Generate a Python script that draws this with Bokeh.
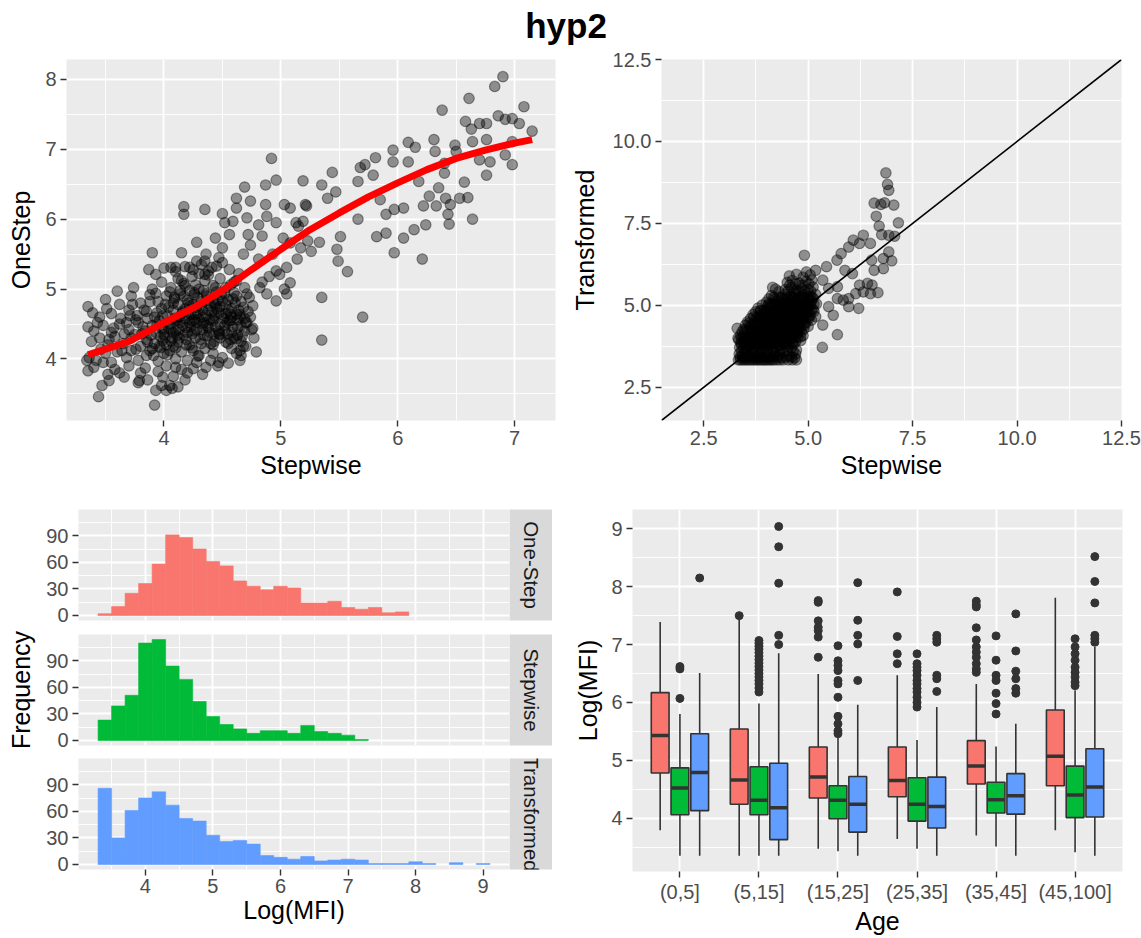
import math
from bokeh.plotting import figure
from bokeh.layouts import row, column
from bokeh.models import Range1d, FixedTicker, NumeralTickFormatter, ColumnDataSource
from bokeh.core.properties import value
from bokeh.transform import dodge
from bokeh.embed import file_html
from bokeh.resources import INLINE

FONT = "Liberation Sans"
PANEL_BG = "#EBEBEB"
title_text = "hyp2"

# ---------------- top-left: Stepwise vs OneStep ----------------
onestep_vs_stepwise = [
    (3.35,4.75),(3.35,4.46),(3.34,3.98),(3.35,3.83),(3.44,3.46),(3.47,3.62),(3.53,3.69),(3.60,4.97),
    (3.74,5.02),(3.90,5.52),(3.87,5.28),(3.93,5.21),(3.92,3.34),(3.93,3.55),(4.02,3.55),(4.07,3.58),
    (3.79,3.69),(4.17,6.18),(4.17,6.07),(4.35,6.14),(4.06,5.31),(4.15,5.52),(4.28,5.67),(4.47,3.95),
    (4.65,3.98),(4.69,6.46),(4.87,6.49),(4.92,6.87),(4.96,6.56),(4.87,6.21),(4.62,6.30),(4.74,6.26),
    (4.76,4.76),(4.76,4.44),(4.96,4.83),(5.05,4.93),(4.88,4.93),(5.19,6.55),(5.21,6.21),(5.35,6.49),
    (5.44,6.67),(5.47,6.39),(5.35,4.88),(5.35,4.27),(5.48,5.57),(5.49,5.40),(5.57,5.25),(5.51,5.75),
    (5.40,6.30),(5.33,5.67),(5.70,4.60),(5.66,6.54),(5.66,6.00),(5.68,6.74),(5.72,6.78),(5.79,6.63),
    (5.81,6.88),(5.82,5.75),(5.90,5.80),(5.85,6.28),(5.90,6.07),(5.96,6.99),(5.96,6.82),(5.97,5.52),
    (5.97,6.14),(6.05,5.73),(6.05,6.16),(6.09,7.10),(6.15,7.03),(6.09,6.82),(6.14,5.85),(6.21,5.43),
    (6.24,5.92),(6.22,6.19),(6.18,6.54),(6.27,6.33),(6.31,7.14),(6.32,6.97),(6.33,6.19),(6.35,6.45),
    (6.38,7.56),(6.40,6.80),(6.40,6.66),(6.41,6.30),(6.43,6.07),(6.44,5.93),(6.45,6.21),(6.49,7.06),
    (6.50,6.97),(6.53,6.30),(6.57,6.53),(6.58,7.40),(6.61,7.73),(6.63,7.29),(6.64,7.11),(6.64,6.00),
    (6.60,6.31),(6.70,7.37),(6.70,6.85),(6.76,7.14),(6.76,7.37),(6.76,6.63),(6.79,6.82),(6.83,7.90),
    (6.86,7.48),(6.90,8.04),(6.92,7.43),(6.92,6.92),(6.98,7.44),(6.98,6.78),(6.98,7.11),(7.04,7.37),
    (7.08,7.61),(7.15,7.26),
    (4.50,6.08),(4.52,5.95),(4.56,5.78),(4.59,5.97),(4.62,6.16),(4.71,6.02),(4.72,5.78),(4.74,5.63),
    (4.81,5.92),(4.84,5.76),(4.88,6.04),(4.96,5.95),(4.93,5.50),(4.96,5.26),(4.99,5.21),(5.03,6.21),
    (5.08,6.16),(5.13,5.95),(5.15,5.90),(5.19,5.97),(5.22,6.19),(5.02,5.73),(5.08,5.66),(5.17,5.59),
    (5.23,5.69),(5.26,5.54),(5.05,5.31),(5.14,5.43),(5.08,5.09),(5.03,5.00),(4.82,5.02),(4.81,5.43),
    (4.68,5.50),(4.56,5.28),(4.62,5.12),(4.71,4.93),(4.65,4.64),(4.71,4.52),(4.67,4.33),(4.65,4.12),
    (4.62,4.29),(4.53,4.24),(4.47,4.36),(4.56,4.55),(4.42,4.57),(4.50,4.83),(4.44,5.02),(4.36,4.93),
    (4.35,5.21),(4.41,5.31),(4.28,5.40),(4.22,5.31),(4.15,5.12),(4.10,5.31),(4.50,5.59),(4.47,5.45),
    (4.36,5.50),(4.44,5.73),
    (3.52,3.78),(3.58,3.85),(3.66,3.74),(3.70,3.90),(3.78,3.66),(3.80,3.80),(3.86,3.70),(3.95,3.82),
    (3.98,3.62),(4.02,3.90),(4.08,3.75),(4.10,3.88),(4.15,3.85),(4.20,3.80),(4.25,3.86),(3.62,3.80),
    (3.40,3.88),(3.48,3.95),(4.05,3.62),(4.12,3.60),
    (3.36,4.02),(3.42,3.98),(3.50,4.08),(3.55,3.95),(3.60,4.10),(3.68,4.02),(3.72,4.12),(3.78,3.98),
    (3.85,4.05),(3.90,4.15),(3.95,3.97),(4.00,4.08),(4.05,4.12),(4.10,4.00),(4.15,4.10),(4.20,3.98),
    (4.25,4.12),(4.30,4.05),(4.35,4.15),(4.42,4.08),(4.50,4.02),(4.58,4.15),(4.62,4.08),(4.40,3.98),
    (3.38,4.25),(3.45,4.30),(3.52,4.20),(3.58,4.32),(3.65,4.22),(3.72,4.30),(3.80,4.18),(3.85,4.28),
    (3.92,4.22),(3.97,4.32),(4.02,4.20),(4.07,4.30),(4.12,4.24),(4.17,4.34),(4.22,4.20),(4.27,4.30),
    (4.32,4.22),(4.37,4.33),(4.43,4.25),(4.48,4.35),(4.55,4.22),(4.60,4.30),(4.66,4.25),(4.70,4.18),
    (4.00,4.35),(4.10,4.16),(4.24,4.36),
    (3.40,4.40),(3.48,4.48),(3.55,4.38),(3.62,4.50),(3.70,4.42),(3.78,4.52),(3.84,4.40),(3.90,4.48),
    (3.96,4.55),(4.00,4.42),(4.05,4.50),(4.10,4.40),(4.14,4.52),(4.19,4.45),(4.24,4.55),(4.28,4.42),
    (4.33,4.50),(4.38,4.45),(4.42,4.54),(4.47,4.40),(4.52,4.48),(4.57,4.55),(4.63,4.45),(4.70,4.52),
    (4.75,4.42),(4.08,4.38),(4.20,4.38),
    (3.45,4.60),(3.55,4.65),(3.63,4.58),(3.70,4.70),(3.77,4.62),(3.85,4.68),(3.92,4.60),(3.98,4.72),
    (4.03,4.62),(4.08,4.70),(4.13,4.60),(4.18,4.72),(4.23,4.64),(4.28,4.74),(4.33,4.60),(4.38,4.70),
    (4.43,4.62),(4.48,4.75),(4.53,4.65),(4.58,4.72),(4.65,4.60),(4.72,4.68),(4.10,4.56),(4.30,4.57),
    (3.50,4.85),(3.62,4.78),(3.72,4.90),(3.80,4.80),(3.88,4.92),(3.95,4.82),(4.02,4.90),(4.08,4.80),
    (4.14,4.93),(4.20,4.84),(4.26,4.95),(4.32,4.82),(4.37,4.90),(4.43,4.80),(4.49,4.92),(4.55,4.85),
    (4.60,4.95),(4.66,4.82),(4.25,4.78),(4.40,4.76),
    (3.90,5.00),(3.98,5.10),(4.06,5.02),(4.12,5.15),(4.18,5.05),(4.24,5.18),(4.30,5.00),(4.35,5.12),
    (4.42,5.05),(4.48,5.15),(4.53,5.02),(4.60,5.10),(4.22,4.98),(4.38,5.20),
    (4.00,5.30),(4.10,5.25),(4.18,5.32),(4.25,5.28),(4.32,5.35),(4.38,5.26),(4.45,5.33),(4.30,5.22),
    (4.50,5.38),(4.35,5.40),
    (3.88,4.12),(3.93,4.38),(3.99,4.26),(4.04,4.44),(4.09,4.58),(4.11,4.33),(4.16,4.48),(4.21,4.62),
    (4.26,4.40),(4.29,4.66),(4.31,4.28),(4.34,4.52),(4.39,4.38),(4.41,4.68),(4.44,4.46),(4.46,4.84),
    (4.51,4.58),(4.54,4.36),(4.57,4.64),(4.59,4.46),(4.61,4.80),(4.63,4.56),(4.68,4.74),(4.69,4.40),
    (3.82,4.46),(3.86,4.58),(3.89,4.34),(3.94,4.66),(3.97,4.16),(4.01,4.78),(4.06,4.26),(4.09,4.88),
    (4.13,4.42),(4.16,4.66),(4.19,4.20),(4.22,4.76),(4.26,4.56),(4.29,4.88),(4.33,4.42),(4.36,4.62),
    (4.40,4.22),(4.45,4.72),(4.48,4.30),(4.52,4.94),(4.55,4.70),(4.58,4.38),(4.62,4.90),(4.66,4.48),
    (3.75,4.35),(3.76,4.56),(3.73,4.78),(3.68,4.52),(3.66,4.36),(3.64,4.12),(3.57,4.44),(3.53,4.28),
    (3.46,4.14),(3.43,4.52),(3.39,4.66),(3.51,4.72),(4.05,4.96),(4.17,5.08),(4.27,5.06),(4.34,4.98),
    (4.45,4.96),(4.57,5.06),(4.64,5.22),(4.69,5.02),(4.73,4.88),(4.74,4.60),(4.77,4.30),(4.79,4.10),
    (4.28,3.95),(4.36,3.88),(4.46,3.90),(4.55,3.94),(4.33,3.78),(4.18,3.70),(3.99,3.74),(3.84,3.87),
    (4.66,4.05),(4.68,4.18),(4.84,5.10),(4.90,5.18),
    (3.91,4.05),(3.96,4.18),(4.01,4.30),(4.06,4.42),(4.11,4.55),(4.16,4.68),(4.21,4.80),(4.26,4.92),
    (3.94,4.50),(3.99,4.62),(4.04,4.74),(4.09,4.86),(4.14,4.98),(4.19,4.28),(4.24,4.16),(4.29,4.04),
    (4.34,4.34),(4.39,4.56),(4.44,4.78),(4.49,4.64),(4.54,4.52),(4.59,4.86),(4.64,4.70),(4.69,4.58),
    (3.86,4.24),(3.81,4.36),(3.76,4.14),(3.71,4.62),(3.83,4.70),(3.88,4.82),(3.93,4.94),(3.98,4.44),
    (4.03,4.06),(4.08,4.18),(4.13,4.30),(4.18,4.58),(4.23,4.46),(4.28,4.52),(4.33,4.70),(4.38,4.84),
    (4.43,4.36),(4.48,4.50),(4.53,4.78),(4.58,4.60),(4.63,4.34),(4.12,4.78),(4.17,4.90),(4.22,4.52),
    (4.27,4.64),(4.32,4.76),(4.37,4.48),(4.42,4.20),(4.47,4.66),(4.52,4.40),(4.57,4.28),(4.62,4.64),
]
smooth_stepwise = [3.35, 3.5, 3.7, 4.0, 4.25, 4.5, 4.75, 5.0, 5.25, 5.5, 5.75, 6.0, 6.25, 6.5, 6.75, 7.0, 7.15]
smooth_onestep = [4.06, 4.14, 4.25, 4.52, 4.73, 4.98, 5.28, 5.57, 5.85, 6.09, 6.32, 6.52, 6.71, 6.87, 6.99, 7.09, 7.14]

# ---------------- top-right: Stepwise vs Transformed ----------------
transformed_vs_stepwise = [
    (6.86,9.04),(6.90,8.69),(6.93,8.51),(6.58,8.12),(6.74,8.08),(6.83,8.13),(7.05,8.06),(6.63,7.72),
    (6.70,7.42),(7.16,7.52),(6.76,7.16),(6.93,7.14),(7.07,7.11),(6.32,7.14),(6.08,6.99),(6.23,6.89),
    (6.49,6.89),(6.93,6.63),(7.00,6.36),(6.80,6.43),(6.52,6.38),(6.58,6.07),(6.80,6.12),(5.97,6.78),
    (5.79,6.58),(5.69,6.38),(5.44,6.18),(4.91,6.53),(5.18,6.07),(4.96,6.02),(5.88,6.07),(6.06,5.97),
    (6.23,5.62),(6.32,5.41),(6.42,5.67),(6.53,5.62),(6.67,5.39),(6.49,5.36),(6.14,5.36),(5.97,5.21),
    (5.84,5.16),(5.70,5.21),(5.97,4.96),(6.21,4.91),(5.60,4.70),(5.49,4.96),(5.35,4.40),(5.70,4.11),
    (5.34,3.72),(5.49,5.52),(5.35,5.77),(5.09,5.77),(5.70,5.57),(3.30,4.30),(3.32,4.00),
    (3.33,3.34),(3.38,3.34),(3.43,3.34),(3.48,3.34),(3.53,3.34),(3.58,3.34),(3.63,3.34),(3.68,3.34),
    (3.73,3.34),(3.78,3.34),(3.83,3.34),(3.88,3.34),(3.93,3.34),(3.98,3.34),(4.03,3.34),(4.08,3.34),
    (4.13,3.34),(4.18,3.34),(4.25,3.34),(4.32,3.34),(4.40,3.34),(4.52,3.34),(4.62,3.34),(4.72,3.34),
    (4.68,3.40),
    (3.35,3.52),(3.42,3.47),(3.50,3.55),(3.60,3.49),(3.70,3.56),(3.80,3.46),(3.90,3.53),(4.00,3.58),
    (4.10,3.48),(4.20,3.54),(4.30,3.50),(4.42,3.57),(4.55,3.46),(4.70,3.52),
    (3.36,3.72),(3.45,3.66),(3.55,3.75),(3.65,3.68),(3.75,3.74),(3.85,3.65),(3.95,3.72),(4.05,3.77),
    (4.15,3.68),(4.25,3.73),(4.35,3.66),(4.48,3.75),(4.60,3.70),(4.72,3.64),
    (3.34,3.95),(3.44,3.88),(3.55,3.93),(3.66,3.86),(3.76,3.96),(3.86,3.90),(3.96,3.85),(4.06,3.94),
    (4.16,3.88),(4.26,3.97),(4.36,3.91),(4.46,3.86),(4.58,3.95),(4.70,3.89),(4.82,3.93),
    (3.38,4.10),(3.50,4.06),(3.62,4.14),(3.74,4.08),(3.84,4.16),(3.94,4.05),(4.04,4.12),(4.14,4.07),
    (4.24,4.15),(4.34,4.09),(4.44,4.13),(4.54,4.04),(4.64,4.11),(4.76,4.16),(4.88,4.08),
    (3.46,4.27),(3.60,4.34),(3.72,4.26),(3.84,4.32),(3.96,4.28),(4.06,4.35),(4.16,4.25),(4.26,4.31),
    (4.36,4.27),(4.46,4.34),(4.56,4.29),(4.66,4.25),(4.78,4.33),(4.90,4.28),(5.00,4.36),
    (3.55,4.50),(3.70,4.46),(3.82,4.54),(3.94,4.48),(4.05,4.55),(4.15,4.45),(4.25,4.52),(4.35,4.47),
    (4.45,4.56),(4.55,4.49),(4.65,4.53),(4.75,4.44),(4.85,4.51),(4.95,4.48),(5.08,4.55),
    (3.68,4.72),(3.80,4.66),(3.92,4.74),(4.04,4.68),(4.14,4.75),(4.24,4.67),(4.34,4.73),(4.44,4.69),
    (4.54,4.76),(4.64,4.65),(4.74,4.72),(4.84,4.68),(4.94,4.74),(5.05,4.70),(5.18,4.66),
    (3.80,4.92),(3.95,4.86),(4.08,4.95),(4.20,4.88),(4.30,4.93),(4.40,4.87),(4.50,4.96),(4.60,4.90),
    (4.70,4.85),(4.80,4.94),(4.90,4.89),(5.00,4.95),(5.12,4.88),
    (4.00,5.10),(4.12,5.05),(4.25,5.14),(4.36,5.08),(4.46,5.15),(4.56,5.06),(4.66,5.12),(4.76,5.07),
    (4.86,5.15),(4.96,5.09),(5.08,5.13),(5.20,5.05),
    (4.12,5.30),(4.30,5.26),(4.45,5.34),(4.58,5.28),(4.70,5.35),(4.82,5.27),(4.92,5.32),(5.05,5.29),
    (5.18,5.34),
    (4.15,5.55),(4.22,5.50),(4.45,5.48),(4.60,5.55),(4.72,5.46),(4.85,5.53),(5.00,5.49),(5.12,5.56),
    (4.50,5.70),(4.62,5.76),(4.78,5.68),(4.95,5.74),
    (4.55,5.90),(4.72,5.95),(4.88,5.86),(5.05,5.93),
    (3.40,3.61),(3.52,3.63),(3.64,3.58),(3.77,3.62),(3.90,3.64),(4.03,3.60),(4.17,3.62),(4.32,3.61),
    (4.50,3.63),(4.64,3.60),
    (3.40,3.81),(3.50,3.79),(3.61,3.83),(3.71,3.80),(3.81,3.84),(3.91,3.78),(4.01,3.82),(4.11,3.80),
    (4.21,3.84),(4.31,3.79),(4.42,3.82),(4.54,3.80),(4.66,3.83),
    (3.40,4.01),(3.52,3.99),(3.66,4.02),(3.80,3.98),(3.90,4.03),(4.00,4.00),(4.10,4.02),(4.20,3.99),
    (4.30,4.03),(4.40,4.00),(4.50,4.02),(4.62,3.99),(4.75,4.02),
    (3.42,4.20),(3.55,4.22),(3.68,4.19),(3.80,4.23),(3.90,4.20),(4.00,4.21),(4.10,4.19),(4.20,4.23),
    (4.30,4.20),(4.40,4.22),(4.50,4.19),(4.60,4.21),(4.72,4.22),(4.84,4.20),
    (3.50,4.40),(3.64,4.41),(3.76,4.39),(3.88,4.42),(4.00,4.40),(4.10,4.41),(4.20,4.38),(4.30,4.42),
    (4.40,4.40),(4.50,4.41),(4.60,4.39),(4.70,4.42),(4.80,4.40),(4.92,4.41),
    (3.62,4.60),(3.76,4.61),(3.88,4.59),(3.98,4.62),(4.10,4.60),(4.20,4.61),(4.30,4.59),(4.40,4.62),
    (4.50,4.60),(4.60,4.61),(4.70,4.59),(4.80,4.62),(4.90,4.60),(5.02,4.61),
    (3.74,4.80),(3.86,4.82),(3.98,4.79),(4.10,4.81),(4.20,4.80),(4.30,4.82),(4.40,4.79),(4.50,4.81),
    (4.60,4.80),(4.70,4.82),(4.80,4.79),(4.90,4.81),(5.02,4.80),(5.14,4.82),
    (3.90,5.01),(4.04,4.99),(4.16,5.02),(4.28,5.00),(4.40,5.01),(4.52,4.99),(4.62,5.02),(4.72,5.00),
    (4.84,5.01),(4.96,4.99),(5.06,5.02),
    (4.06,5.20),(4.20,5.19),(4.36,5.21),(4.52,5.20),(4.64,5.22),(4.76,5.19),(4.90,5.21),(5.00,5.20),
    (5.12,5.22),
    (3.37,3.42),(3.47,3.41),(3.57,3.43),(3.67,3.42),(3.77,3.41),(3.87,3.43),(3.97,3.42),(4.07,3.41),
    (4.17,3.43),(4.27,3.42),(4.37,3.41),(4.47,3.43),(4.60,3.42),
    (3.39,3.86),(3.49,3.84),(3.59,3.87),(3.69,3.85),(3.79,3.86),(3.89,3.84),(3.99,3.87),(4.09,3.85),
    (4.19,3.86),(4.29,3.84),(4.39,3.87),(4.49,3.85),(4.62,3.86),
    (3.45,4.05),(3.57,4.04),(3.69,4.06),(3.79,4.05),(3.89,4.04),(3.99,4.06),(4.09,4.05),(4.19,4.04),
    (4.29,4.06),(4.39,4.05),(4.49,4.04),(4.59,4.06),(4.70,4.05),(4.82,4.04),
    (3.50,4.25),(3.64,4.24),(3.76,4.26),(3.88,4.25),(3.98,4.24),(4.08,4.26),(4.18,4.25),(4.28,4.24),
    (4.38,4.26),(4.48,4.25),(4.58,4.24),(4.68,4.26),(4.80,4.25),
    (3.58,4.45),(3.72,4.44),(3.84,4.46),(3.96,4.45),(4.08,4.44),(4.18,4.46),(4.28,4.45),(4.38,4.44),
    (4.48,4.46),(4.58,4.45),(4.68,4.44),(4.78,4.46),(4.90,4.45),
    (3.70,4.65),(3.84,4.64),(3.96,4.66),(4.08,4.65),(4.18,4.64),(4.28,4.66),(4.38,4.65),(4.48,4.64),
    (4.58,4.66),(4.68,4.65),(4.78,4.64),(4.88,4.66),(5.00,4.65),
    (3.86,4.85),(4.00,4.84),(4.14,4.86),(4.26,4.85),(4.36,4.84),(4.46,4.86),(4.56,4.85),(4.66,4.84),
    (4.76,4.86),(4.86,4.85),(4.96,4.84),(5.08,4.86),
    (4.06,5.05),(4.20,5.04),(4.32,5.06),(4.42,5.05),(4.52,5.04),(4.62,5.06),(4.72,5.05),(4.82,5.04),
    (4.92,5.06),(5.02,5.05),(5.14,5.04),
    (4.18,5.25),(4.36,5.24),(4.50,5.26),(4.62,5.25),(4.76,5.24),(4.88,5.26),(5.00,5.25),(5.10,5.24),
    (4.30,5.42),(4.52,5.44),(4.66,5.42),(4.78,5.45),(4.92,5.43),(5.06,5.44),
    (4.56,5.62),(4.70,5.65),(4.86,5.62),(5.02,5.66),
]
identity_line = [1.49, 12.5]

# ---------------- histograms ----------------
bin_edges = [3.3,3.5,3.7,3.9,4.1,4.3,4.5,4.7,4.9,5.1,5.3,5.5,5.7,5.9,6.1,6.3,6.5,6.7,6.9,7.1,
             7.3,7.5,7.7,7.9,8.1,8.3,8.5,8.7,8.9,9.1]
onestep_counts = [2,10,25,36,58,91,88,75,61,56,39,33,29,33,31,14,14,16,9,7,9,3,4,0,0,0,0,0,0]
stepwise_counts = [23,39,51,110,114,84,69,44,27,18,13,8,11,11,8,17,10,8,6,1,0,0,0,0,0,0,0,0,0]
transformed_counts = [86,30,61,75,82,67,52,49,33,26,27,23,10,8,6,9,4,5,6,5,1,1,1,3,1,0,2,0,1]

# ---------------- boxplots ----------------
ages = ["(0,5]", "(5,15]", "(15,25]", "(25,35]", "(35,45]", "(45,100]"]
methods = ["One-Step", "Stepwise", "Transformed"]
method_colors = ["#F8766D", "#00BA38", "#619CFF"]

box_lower = {
    "One-Step":    [3.79, 3.35, 3.47, 3.64, 3.70, 3.79],
    "Stepwise":    [3.35, 3.35, 3.43, 3.47, 3.51, 3.41],
    "Transformed": [3.35, 3.35, 3.35, 3.35, 3.35, 3.35],
}
box_q1 = {
    "One-Step":    [4.78, 4.24, 4.35, 4.37, 4.59, 4.56],
    "Stepwise":    [4.06, 4.06, 3.99, 3.95, 4.09, 4.01],
    "Transformed": [4.13, 3.63, 3.76, 3.83, 4.07, 4.02],
}
box_median = {
    "One-Step":    [5.43, 4.66, 4.71, 4.65, 4.90, 5.07],
    "Stepwise":    [4.52, 4.31, 4.31, 4.24, 4.32, 4.40],
    "Transformed": [4.79, 4.18, 4.24, 4.20, 4.39, 4.54],
}
box_q3 = {
    "One-Step":    [6.17, 5.54, 5.23, 5.23, 5.34, 5.87],
    "Stepwise":    [4.87, 4.89, 4.56, 4.70, 4.62, 4.90],
    "Transformed": [5.46, 4.95, 4.72, 4.71, 4.77, 5.20],
}
box_upper = {
    "One-Step":    [7.39, 7.45, 6.49, 6.47, 6.32, 7.81],
    "Stepwise":    [5.80, 5.98, 5.40, 5.35, 5.24, 6.21],
    "Transformed": [6.51, 6.85, 5.96, 5.92, 5.63, 6.96],
}
box_outliers = {
    "One-Step": [[], [7.50], [7.76, 7.73, 7.41, 7.30, 7.24, 7.13, 6.78], [7.91, 7.14, 6.84, 6.67],
                 [7.75, 7.69, 7.65, 7.29, 7.08, 6.96, 6.87, 6.78, 6.67, 6.58, 6.52], []],
    "Stepwise": [[6.07, 6.58, 6.62],
                 [7.07, 7.02, 6.97, 6.92, 6.86, 6.80, 6.74, 6.68, 6.62, 6.56, 6.50, 6.44, 6.38, 6.32, 6.25, 6.18],
                 [6.98, 6.72, 6.64, 6.55, 6.38, 6.32, 6.09, 5.76, 5.63, 5.51, 5.46],
                 [6.84, 6.67, 6.61, 6.55, 6.47, 6.38, 6.32, 6.24, 6.18, 6.09, 6.00, 5.92],
                 [7.15, 6.73, 6.47, 6.38, 6.16, 5.98, 5.80],
                 [7.10, 6.96, 6.84, 6.73, 6.61, 6.52, 6.44, 6.35, 6.29]],
    "Transformed": [[8.15], [9.04, 8.69, 8.06, 7.16, 7.00], [8.07, 7.42, 7.16, 7.01, 6.38],
                    [7.16, 7.10, 7.04, 6.47, 6.41, 6.19], [7.53, 6.89, 6.54, 6.41, 6.24, 6.16],
                    [8.52, 8.09, 7.72, 7.16, 7.10, 7.04]],
}
dodge_offsets = [-0.25, 0.0, 0.25]
box_width = 0.225


def make_fig(w, h, xr, yr, left, right, top, bottom):
    p = figure(width=w, height=h, x_range=xr, y_range=yr, output_backend="svg",
               toolbar_location=None, min_border_left=left, min_border_right=right,
               min_border_top=top, min_border_bottom=bottom)
    p.outline_line_color = None
    p.background_fill_color = PANEL_BG
    p.border_fill_color = "white"
    return p


def style_axes(p, xt, xm, yt, ym, xlabel=None, ylabel=None, xstand=2, ystand=7, xlab_std=4):
    tx = FixedTicker(ticks=xt, minor_ticks=xm)
    ty = FixedTicker(ticks=yt, minor_ticks=ym)
    p.xaxis.ticker = tx
    p.yaxis.ticker = ty
    p.xgrid.ticker = tx
    p.ygrid.ticker = ty
    for g in (p.xgrid, p.ygrid):
        g.grid_line_color = "white"
        g.grid_line_width = 1.8
        g.minor_grid_line_color = "white"
        g.minor_grid_line_width = 0.9
    for ax in p.axis:
        ax.axis_line_color = None
        ax.major_tick_line_color = "#333333"
        ax.major_tick_line_width = 1.4
        ax.major_tick_out = 6
        ax.major_tick_in = 0
        ax.minor_tick_line_color = None
        ax.major_label_text_font = FONT
        ax.major_label_text_font_size = "20px"
        ax.major_label_text_color = "#4D4D4D"
        ax.major_label_standoff = 4
        ax.axis_label_text_font = FONT
        ax.axis_label_text_font_size = "25px"
        ax.axis_label_text_font_style = "normal"
        ax.axis_label_text_color = "black"
    p.xaxis.major_label_standoff = xlab_std
    if xlabel is not None:
        p.xaxis.axis_label = xlabel
        p.xaxis.axis_label_standoff = xstand
    if ylabel is not None:
        p.yaxis.axis_label = ylabel
        p.yaxis.axis_label_standoff = ystand


# ---- title ----
pt = figure(width=1141, height=47, x_range=(0, 1141), y_range=(0, 47), output_backend="svg",
            toolbar_location=None, min_border=0)
pt.axis.visible = False
pt.grid.visible = False
pt.outline_line_color = None
pt.text(x=[565.5], y=[22.4], text=[title_text], text_font=value(FONT), text_font_size="35px",
        text_font_style="bold", text_align="center", text_baseline="middle", text_color="black")

# ---- top-left ----
p1 = make_fig(565, 448, Range1d(3.166, 7.35), Range1d(3.119, 8.286), 66, 10, 11, 75)
style_axes(p1, [4, 5, 6, 7], [3.5, 4.5, 5.5, 6.5], [4, 5, 6, 7, 8], [3.5, 4.5, 5.5, 6.5, 7.5],
           xlabel="Stepwise", ylabel="OneStep", xstand=3, ystand=7)
sx = [a for a, b in onestep_vs_stepwise]
sy = [b for a, b in onestep_vs_stepwise]
p1.scatter(sx, sy, size=10.5, fill_color="black", fill_alpha=0.4, line_color="black",
           line_alpha=0.4, line_width=1.2)
p1.line(smooth_stepwise, smooth_onestep, line_color="#FF0000", line_width=7)

# ---- top-right ----
p2 = make_fig(576, 448, Range1d(1.49, 12.5), Range1d(1.49, 12.5), 96, 20, 12, 75)
style_axes(p2, [2.5, 5, 7.5, 10, 12.5], [3.75, 6.25, 8.75, 11.25],
           [2.5, 5, 7.5, 10, 12.5], [3.75, 6.25, 8.75, 11.25],
           xlabel="Stepwise", ylabel="Transformed", xstand=3, ystand=11)
p2.xaxis.formatter = NumeralTickFormatter(format="0.0")
p2.yaxis.formatter = NumeralTickFormatter(format="0.0")
tx_ = [a for a, b in transformed_vs_stepwise]
ty_ = [b for a, b in transformed_vs_stepwise]
p2.scatter(tx_, ty_, size=10.5, fill_color="black", fill_alpha=0.4, line_color="black",
           line_alpha=0.4, line_width=1.2)
p2.line(identity_line, identity_line, line_color="black", line_width=1.6)

# ---- histograms (faceted) ----
hist_counts = [onestep_counts, stepwise_counts, transformed_counts]
hist_heights = [132, 124, 187]
hist_tops = [14, 7, 7]
hist_bottoms = [7, 6, 69]
hist_rows = []
for i, m in enumerate(methods):
    ph = make_fig(509, hist_heights[i], Range1d(3.01, 9.39), Range1d(-5.7, 119.7),
                  78, 0, hist_tops[i], hist_bottoms[i])
    style_axes(ph, [4, 5, 6, 7, 8, 9], [3.5, 4.5, 5.5, 6.5, 7.5, 8.5], [0, 30, 60, 90], [15, 45, 75, 105],
               xlabel="Log(MFI)" if i == 2 else None, ylabel="Frequency" if i == 1 else None,
               xstand=0, ystand=8, xlab_std=3)
    if i < 2:
        ph.xaxis.visible = False
    counts = hist_counts[i]
    lefts = [bin_edges[k] for k in range(len(counts)) if counts[k] > 0]
    rights = [bin_edges[k + 1] for k in range(len(counts)) if counts[k] > 0]
    tops = [c for c in counts if c > 0]
    ph.quad(left=lefts, right=rights, bottom=0, top=tops, fill_color=method_colors[i],
            line_color=method_colors[i], line_width=0.6)

    ps = figure(width=43, height=hist_heights[i], x_range=(0, 1), y_range=(0, 1),
                output_backend="svg", toolbar_location=None, min_border_left=0, min_border_right=0,
                min_border_top=hist_tops[i], min_border_bottom=hist_bottoms[i])
    ps.axis.visible = False
    ps.grid.visible = False
    ps.outline_line_color = None
    ps.background_fill_color = "#D9D9D9"
    ps.border_fill_color = "white"
    ps.text(x=[0.5], y=[0.5], text=[m], angle=-math.pi / 2, text_font=value(FONT),
            text_font_size="20.5px", text_align="center", text_baseline="middle", text_color="#1A1A1A")
    hist_rows.append(row(ph, ps))

# ---- boxplots ----
p4 = make_fig(589, 443, Range1d(0.4, 6.6), Range1d(3.079, 9.334), 80, 19, 14, 67)
style_axes(p4, [1, 2, 3, 4, 5, 6], [], [4, 5, 6, 7, 8, 9], [3.5, 4.5, 5.5, 6.5, 7.5, 8.5],
           xlabel="Age", ylabel="Log(MFI)", xstand=1, ystand=6, xlab_std=3)
p4.xaxis.major_label_overrides = {i + 1: a for i, a in enumerate(ages)}
for mi, m in enumerate(methods):
    xs = [ai + 1 + dodge_offsets[mi] for ai in range(len(ages))]
    src = ColumnDataSource(dict(x=xs, lo=box_lower[m], q1=box_q1[m], med=box_median[m],
                                q3=box_q3[m], hi=box_upper[m]))
    p4.segment(x0="x", y0="q3", x1="x", y1="hi", source=src, line_color="#333333", line_width=1.6)
    p4.segment(x0="x", y0="lo", x1="x", y1="q1", source=src, line_color="#333333", line_width=1.6)
    p4.vbar(x="x", width=box_width, bottom="q1", top="q3", source=src, fill_color=method_colors[mi],
            line_color="#333333", line_width=1.6)
    p4.segment(x0=dodge("x", -box_width / 2), y0="med", x1=dodge("x", box_width / 2), y1="med",
               source=src, line_color="#333333", line_width=3.5)
    ox, oy = [], []
    for ai in range(len(ages)):
        for v in box_outliers[m][ai]:
            ox.append(xs[ai])
            oy.append(v)
    p4.scatter(ox, oy, size=8, fill_color="#333333", line_color="#333333")

layout = column(pt, row(p1, p2), row(column(*hist_rows), p4))
open("out.html", "w").write(file_html(layout, INLINE))
